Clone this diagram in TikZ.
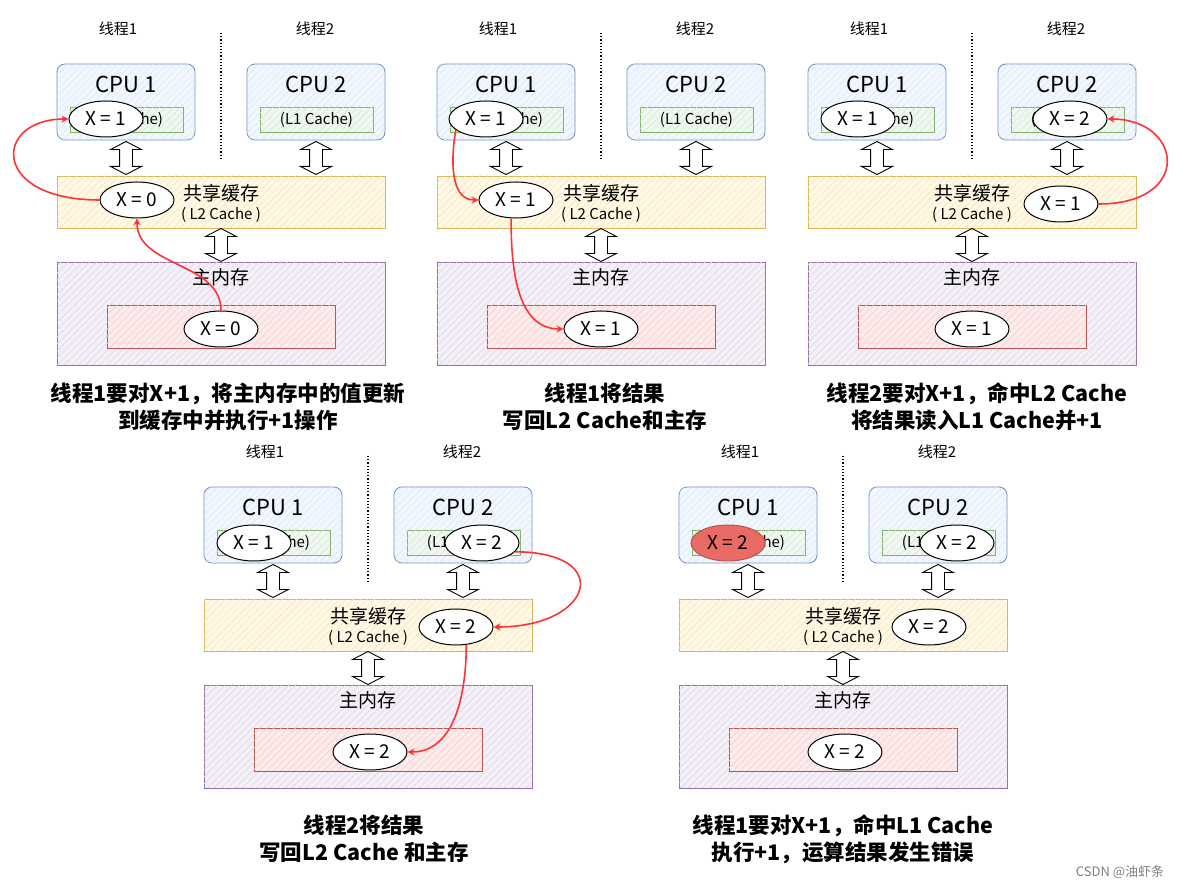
\documentclass[tikz,border=0pt]{standalone}
\usepackage{fontspec}
\setmainfont{Noto Sans CJK SC}
\usetikzlibrary{arrows.meta,shapes.arrows,shapes.geometric,patterns.meta,calc}

\definecolor{cpuline}{HTML}{6C8EBF}
\definecolor{cpufill}{HTML}{DAE8FC}
\definecolor{l1line}{HTML}{82B366}
\definecolor{l1fill}{HTML}{D5E8D4}
\definecolor{l2line}{HTML}{D6B656}
\definecolor{l2fill}{HTML}{FFF2CC}
\definecolor{memline}{HTML}{9673A6}
\definecolor{memfill}{HTML}{E1D5E7}
\definecolor{ramline}{HTML}{B85450}
\definecolor{ramfill}{HTML}{F8CECC}
\definecolor{xred}{HTML}{FF3333}
\definecolor{badfill}{HTML}{EA6B66}

\tikzset{
  hatch/.style={postaction={pattern color=#1,
      pattern={Lines[angle=45,distance=5pt,line width=.6pt]}}},
  cpubox/.style={draw=cpuline, fill=cpufill!35, hatch=cpufill, line width=.8pt,
    rounded corners=8pt, minimum width=138, minimum height=76},
  l1box/.style={draw=l1line, fill=l1fill!35, hatch=l1fill, line width=.8pt,
    minimum width=113, minimum height=25},
  l2box/.style={draw=l2line, fill=l2fill!50, hatch=l2fill!80!l2line, line width=.8pt,
    minimum width=328, minimum height=52},
  membox/.style={draw=memline, fill=memfill!35, hatch=memfill, line width=.8pt,
    minimum width=328, minimum height=103},
  rambox/.style={draw=ramline, fill=ramfill!40, hatch=ramfill, line width=.8pt,
    minimum width=228, minimum height=43},
  thr/.style={font=\fontsize{15}{15}\selectfont},
  cputext/.style={font=\fontsize{22}{22}\selectfont},
  small/.style={font=\fontsize{15}{15}\selectfont},
  cachetext/.style={font=\fontsize{19}{19}\selectfont},
  dbl/.style={shape=double arrow, draw, fill=white, line width=.9pt,
    shape border rotate=90, double arrow head extend=9pt,
    double arrow tip angle=125, minimum height=33, inner sep=6pt},
  xell/.style={ellipse, draw, fill=white, line width=1pt, minimum width=74,
    minimum height=36, inner sep=0, font=\fontsize{19}{19}\selectfont},
  arr/.style={draw=xred, line width=1.6pt, -{Stealth[length=7pt,width=7pt]}},
  caption/.style={align=center, font=\fontsize{21.5}{27}\selectfont\bfseries},
  divider/.style={dotted, line width=1.2pt}
}

% common part of one panel: #1 is the name prefix
\newcommand\drawpanel[1]{%
  \node[thr] (#1-t1) at (118,860) {线程1};
  \node[thr] (#1-t2) at (315,860) {线程2};
  \draw[divider] (221,856) -- (221,731);
  \node[cpubox] (#1-cpu1) at (126,787) {};
  \node[cpubox] (#1-cpu2) at (316,787) {};
  \node[cputext] (#1-c1) at (126,805) {CPU 1};
  \node[cputext] (#1-c2) at (316,805) {CPU 2};
  \node[l1box] (#1-l1a) at (126.5,769.5) {};
  \node[l1box] (#1-l1b) at (316.5,769.5) {};
  \node[small] (#1-n1) at (#1-l1a) {(L1 Cache)};
  \node[small] (#1-n2) at (#1-l1b) {(L1 Cache)};
  \node[l2box] (#1-l2) at (221,687) {};
  \node[cachetext] (#1-s1) at (221,696) {共享缓存};
  \node[small] (#1-s2) at (221,674) {( L2 Cache )};
  \node[membox] (#1-mem) at (221,575.5) {};
  \node[cachetext] (#1-m1) at (221,612) {主内存};
  \node[rambox] (#1-ram) at (221,562.5) {};
  \node[dbl] (#1-d1) at ($(#1-cpu1.south)!.5!(#1-cpu1.south |- #1-l2.north)$) {};
  \node[dbl] (#1-d2) at ($(#1-cpu2.south)!.5!(#1-cpu2.south |- #1-l2.north)$) {};
  \node[dbl] (#1-d3) at ($(#1-l2.south)!.5!(#1-mem.north)$) {};
}

\begin{document}
\begin{tikzpicture}[x=1pt,y=1pt]
  \useasboundingbox[fill=white] (0,0) rectangle (1186,889);

  % panel 1
  \begin{scope}
    \drawpanel{p1}
    \node[xell] (p1-x1) at (106,770) {X = 1};
    \node[xell] (p1-x2) at (137,689) {X = 0};
    \node[xell] (p1-x3) at (221,560) {X = 0};
    \draw[arr] (p1-x2.west) .. controls +(-110,0) and +(-75,0) .. (p1-x1.west);
    \draw[arr] (p1-x3.north) to[out=90,in=-90] (p1-x2.south);
    \node[caption] (p1-cap) at (228,482.5) {线程1要对X+1，将主内存中的值更新\\到缓存中并执行+1操作};
  \end{scope}

  % panel 2
  \begin{scope}[xshift=380]
    \drawpanel{p2}
    \node[xell] (p2-x1) at (106,770) {X = 1};
    \node[xell] (p2-x2) at (136,689) {X = 1};
    \node[xell] (p2-x3) at (221,560) {X = 1};
    \draw[arr] (p2-x1.200) to[out=-100,in=180] (p2-x2.west);
    \draw[arr] (p2-x2.-105) to[out=-90,in=180] (p2-x3.west);
    \node[caption] (p2-cap) at (225,482.5) {线程1将结果\\写回L2 Cache和主存};
  \end{scope}

  % panel 3
  \begin{scope}[xshift=751]
    \drawpanel{p3}
    \node[xell] (p3-x1) at (107,770) {X = 1};
    \node[xell] (p3-x2) at (319,770) {X = 2};
    \node[xell] (p3-x3) at (310,685) {X = 1};
    \node[xell] (p3-x4) at (221,560) {X = 1};
    \draw[arr] (p3-x3.east) .. controls +(95,0) and +(75,0) .. (p3-x2.east);
    \node[caption] (p3-cap) at (226,482.5) {线程2要对X+1，命中L2 Cache\\将结果读入L1 Cache并+1};
  \end{scope}

  % panel 4
  \begin{scope}[xshift=147,yshift=-423]
    \drawpanel{p4}
    \node[xell] (p4-x1) at (107,769) {X = 1};
    \node[xell] (p4-x2) at (335,769) {X = 2};
    \node[xell] (p4-x3) at (309,685) {X = 2};
    \node[xell] (p4-x4) at (223,560) {X = 2};
    \draw[arr] (p4-x2.-15) .. controls +(100,0) and +(100,0) .. (p4-x3.east);
    \draw[arr] (p4-x3.-60) to[out=-90,in=0] (p4-x4.east);
    \node[caption] (p4-cap) at (217,473) {线程2将结果\\写回L2 Cache 和主存};
  \end{scope}

  % panel 5
  \begin{scope}[xshift=622,yshift=-423]
    \drawpanel{p5}
    \node[xell, fill=badfill, draw=ramline] (p5-x1) at (106,769) {X = 2};
    \node[xell] (p5-x2) at (335,769) {X = 2};
    \node[xell] (p5-x3) at (307,685) {X = 2};
    \node[xell] (p5-x4) at (223,560) {X = 2};
    \node[caption] (p5-cap) at (221,473) {线程1要对X+1，命中L1 Cache\\执行+1，运算结果发生错误};
  \end{scope}

  \node[gray, font=\fontsize{13}{13}\selectfont] (mark) at (1120,17) {CSDN @油虾条};
\end{tikzpicture}
\end{document}
